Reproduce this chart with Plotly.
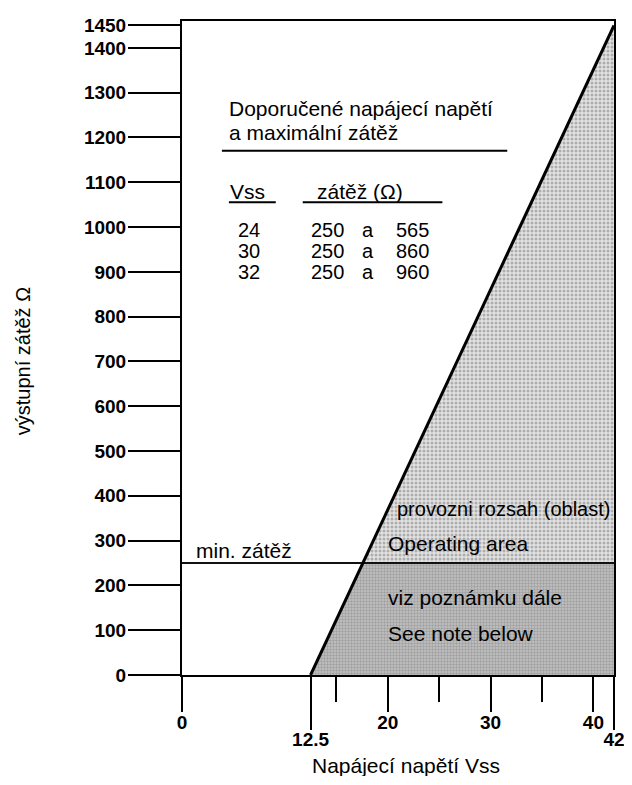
import plotly.graph_objects as go

# ---- data ----
vss_start = 12.5          # V, load 0 Ω
vss_max = 42              # V
load_max = 1450           # Ω at vss_max
load_min = 250            # Ω minimum load
x_major_ticks = [0, 20, 30, 40]
x_long_ticks = [12.5, 42]
x_minor_ticks = [15, 25, 35]
y_ticks = [0, 100, 200, 300, 400, 500, 600, 700, 800, 900, 1000, 1100, 1200, 1300, 1400, 1450]
table_vss = [24, 30, 32]
table_load_lo = [250, 250, 250]
table_load_hi = [565, 860, 960]

# derived crossing of min load with the limit line
v_at_min = vss_start + load_min * (vss_max - vss_start) / load_max

# page has an 8px body margin; plot area on page: x 182..615, y 15..675
OFF = 8
W, H = 624, 768
L = 182 - OFF
T = 15 - OFF
R = W - (615 - OFF)
B = H - (675 - OFF)
PW, PH = 615 - 182, 675 - 15

def px(x):
    return (x - 182) / PW

def py(y):
    return (675 - y) / PH

FONT = "Liberation Sans, Arial, Helvetica, sans-serif"

fig = go.Figure()

# operating area (upper, light stipple)
fig.add_trace(go.Scatter(
    x=[v_at_min, vss_max, vss_max, v_at_min],
    y=[load_min, load_max, load_min, load_min],
    mode="lines", line=dict(width=0), fill="toself",
    fillcolor="#d6d6d6",
    fillpattern=dict(shape=".", fgcolor="#777777", bgcolor="#e2e2e2", size=4, solidity=0.45),
    hoverinfo="skip", showlegend=False))

# lower area (darker stipple)
fig.add_trace(go.Scatter(
    x=[vss_start, v_at_min, vss_max, vss_max, vss_start],
    y=[0, load_min, load_min, 0, 0],
    mode="lines", line=dict(width=0), fill="toself",
    fillcolor="#b8b8b8",
    fillpattern=dict(shape=".", fgcolor="#7c7c7c", bgcolor="#c4c4c4", size=3, solidity=0.5),
    hoverinfo="skip", showlegend=False))

# min load line
fig.add_trace(go.Scatter(
    x=[0, vss_max], y=[load_min, load_min], mode="lines",
    line=dict(color="#111111", width=2), hoverinfo="skip", showlegend=False))

# limit line
fig.add_trace(go.Scatter(
    x=[vss_start, vss_max], y=[0, load_max], mode="lines",
    line=dict(color="black", width=3), hoverinfo="skip", showlegend=False))

# dummy trace for second x axis
fig.add_trace(go.Scatter(x=[vss_start], y=[0], xaxis="x2", mode="markers",
                         marker=dict(opacity=0), hoverinfo="skip", showlegend=False))

tickfont = dict(family=FONT, size=19, color="black", weight="bold")

fig.update_layout(
    width=W, height=H,
    margin=dict(l=L, r=R, t=T, b=B),
    paper_bgcolor="white", plot_bgcolor="white",
    font=dict(family=FONT, size=21, color="black"),
    xaxis=dict(range=[0, vss_max], showline=True, linecolor="black", linewidth=2, mirror=True,
               showgrid=False, zeroline=False, ticks="outside", tickmode="array",
               tickvals=x_major_ticks, ticktext=[str(v) for v in x_major_ticks],
               ticklen=35, tickwidth=2, tickcolor="black", tickfont=tickfont,
               ticklabelstandoff=-6,
               minor=dict(tickmode="array", tickvals=x_minor_ticks, ticks="outside",
                          ticklen=25, tickwidth=2, tickcolor="black", showgrid=False)),
    xaxis2=dict(range=[0, vss_max], overlaying="x", anchor="y", side="bottom",
                showline=False, showgrid=False, zeroline=False, ticks="outside",
                tickmode="array", tickvals=x_long_ticks,
                ticktext=[("%g" % v) for v in x_long_ticks],
                ticklen=54, tickwidth=2, tickcolor="black", tickfont=tickfont,
                ticklabelstandoff=-7),
    yaxis=dict(range=[0, 1460], showline=True, linecolor="black", linewidth=2, mirror=True,
               showgrid=False, zeroline=False, ticks="outside", tickmode="array",
               tickvals=y_ticks, ticktext=[str(v) for v in y_ticks],
               ticklen=52, tickwidth=2, tickcolor="black", tickfont=tickfont,
               ticklabelstandoff=-2),
)

ann = []
def text(s, x, y, anchor="left", size=21):
    ann.append(dict(text=s, x=px(x), y=py(y), xref="paper", yref="paper",
                    xanchor=anchor, yanchor="middle", showarrow=False,
                    font=dict(family=FONT, size=size, color="black")))

text("Doporučené napájecí napětí", 227, 103)
text("a maximální zátěž", 227, 128)
text("Vss", 228, 187)
text("zátěž (Ω)", 315, 187)
row_y = [226, 247, 268]
for v, lo, hi, yy in zip(table_vss, table_load_lo, table_load_hi, row_y):
    text(str(v), 249, yy, "center", 20)
    text(str(lo), 328, yy, "center", 20)
    text("a", 368, yy, "center", 20)
    text(str(hi), 413, yy, "center", 20)

text("min. zátěž", 194, 549)
text("provozni rozsah (oblast)", 613, 507, "right", 20)
text("Operating area", 386, 542)
text("viz poznámku dále", 386, 597)
text("See note below", 386, 633)

ann.append(dict(text="výstupní zátěž Ω", x=px(23), y=py(358), xref="paper", yref="paper",
                xanchor="center", yanchor="middle", textangle=-90, showarrow=False,
                font=dict(family=FONT, size=20, color="black")))
ann.append(dict(text="Napájecí napětí Vss", x=px(407), y=py(766), xref="paper", yref="paper",
                xanchor="center", yanchor="middle", showarrow=False,
                font=dict(family=FONT, size=21, color="black")))
fig.update_layout(annotations=ann)

shapes = []
def hline(x0, x1, y, w=2):
    shapes.append(dict(type="line", xref="paper", yref="paper", x0=px(x0), x1=px(x1),
                       y0=py(y), y1=py(y), line=dict(color="black", width=w)))
hline(222, 508, 146)
hline(229, 276, 198)
hline(303, 443, 198)
fig.update_layout(shapes=shapes)

fig.write_html("out.html")
